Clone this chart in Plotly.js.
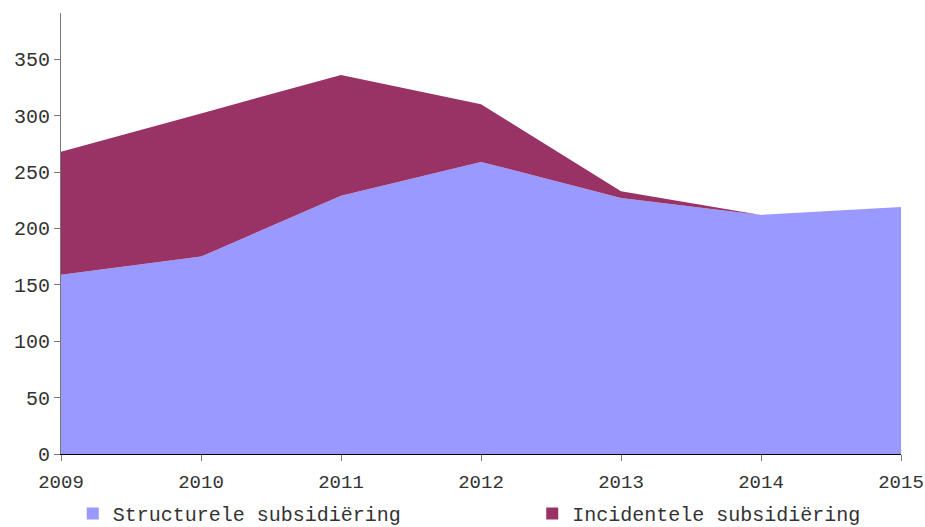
<!DOCTYPE html>
<html>
<head>
<meta charset="utf-8">
<script src="https://cdn.plot.ly/plotly-3.0.1.min.js"></script>
<style>html,body{margin:0;padding:0;background:#fff;}#chart{width:925px;height:527px;}</style>
</head>
<body>
<div id="chart"></div>
<script>
const years = ['2009', '2010', '2011', '2012', '2013', '2014', '2015'];
const structurele = [159, 175, 229, 259, 227, 212, 219];
const incidentele = [109, 127, 107, 51, 6, 0, null];
const seriesNames = ['Structurele subsidiëring', 'Incidentele subsidiëring'];
const colors = ['#9999FF', '#993366'];
const yTicks = [0, 50, 100, 150, 200, 250, 300, 350];

const fontFam = '"Liberation Mono", "Courier New", monospace';

const traces = [
  {x: years.map(Number), y: structurele, type: 'scatter', mode: 'none', stackgroup: 'one',
   fillcolor: colors[0], line: {width: 0}, showlegend: false, hoverinfo: 'x+y'},
  {x: years.map(Number), y: incidentele, type: 'scatter', mode: 'none', stackgroup: 'one',
   fillcolor: colors[1], line: {width: 0}, showlegend: false, hoverinfo: 'x+y'},
  {x: [null], y: [null], type: 'scatter', mode: 'markers', name: seriesNames[0], legend: 'legend',
   marker: {symbol: 'square', size: 12, color: colors[0]}},
  {x: [null], y: [null], type: 'scatter', mode: 'markers', name: seriesNames[1], legend: 'legend2',
   marker: {symbol: 'square', size: 12, color: colors[1]}}
];

const legendBase = {
  orientation: 'h', xanchor: 'left', yanchor: 'middle', y: -0.135,
  itemwidth: 30, font: {family: fontFam, size: 20, color: '#333'},
  bgcolor: 'rgba(0,0,0,0)'
};

const layout = {
  width: 925, height: 527,
  margin: {l: 61, r: 24, t: 13, b: 73, autoexpand: false},
  paper_bgcolor: '#fff', plot_bgcolor: '#fff',
  font: {family: fontFam, size: 19, color: '#333'},
  xaxis: {
    range: [2009, 2015], tickvals: years.map(Number), ticktext: years,
    showgrid: false, zeroline: false, showline: true, linecolor: '#000', linewidth: 1,
    ticks: 'outside', ticklen: 6, tickcolor: '#777', automargin: false, ticklabelstandoff: 4,
    tickfont: {family: fontFam, size: 19, color: '#333'}
  },
  yaxis: {
    range: [0, 391], tickvals: yTicks, ticktext: yTicks.map(String),
    showgrid: false, zeroline: false, showline: true, linecolor: '#777', linewidth: 1,
    ticks: 'outside', ticklen: 6, tickcolor: '#777', automargin: false,
    tickfont: {family: fontFam, size: 20, color: '#333'}
  },
  showlegend: true,
  legend: Object.assign({}, legendBase, {x: 0.014}),
  legend2: Object.assign({}, legendBase, {x: 0.561})
};

Plotly.newPlot('chart', traces, layout, {displayModeBar: false, staticPlot: true});
</script>
</body>
</html>
